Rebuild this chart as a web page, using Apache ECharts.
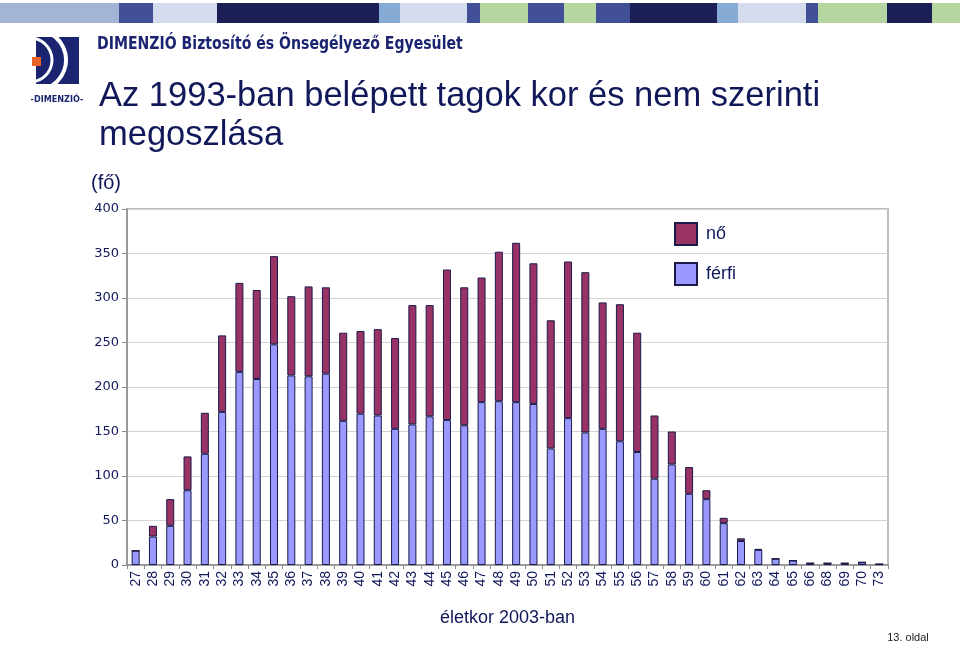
<!DOCTYPE html>
<html>
<head>
<meta charset="utf-8">
<script src="https://cdn.jsdelivr.net/npm/echarts@6/dist/echarts.min.js"></script>
<style>html,body{margin:0;padding:0;background:#fff}#c{width:960px;height:648px}</style>
</head>
<body>
<div id="c"></div>
<script>
const ages = ['27','28','29','30','31','32','33','34','35','36','37','38','39','40','41','42','43','44','45','46','47','48','49','50','51','52','53','54','55','56','57','58','59','60','61','62','63','64','65','66','68','69','70','73'];
const ferfi = [16,32,44,84,125,172,217,209,248,213,212,215,162,170,168,153,158,167,163,157,183,184,183,181,131,165,149,153,139,127,97,113,80,74,47,27,17,7,5,2,2,2,3,1];
const no = [0,12,30,38,46,86,100,100,99,89,101,97,99,93,97,102,134,125,169,155,140,168,179,158,144,176,180,142,154,134,71,37,30,10,6,3,1,0,0,0,0,0,0,0];
const yTicks = [0,50,100,150,200,250,300,350,400];

const NAVY = '#10185a';
const banner = [
  [0,119,'#a3b5d6'],[119,153,'#414f96'],[153,217,'#d3dbec'],[217,379,'#1b1f55'],
  [379,400,'#86acd6'],[400,467,'#d3dbec'],[467,480,'#414f96'],[480,528,'#b5d6a0'],
  [528,564,'#414f96'],[564,596,'#b5d6a0'],[596,630,'#414f96'],[630,717,'#1b1f55'],
  [717,738,'#86acd6'],[738,806,'#d3dbec'],[806,818,'#414f96'],[818,887,'#b5d6a0'],
  [887,932,'#1b1f55'],[932,960,'#b5d6a0']
];
const graphics = banner.map(b => ({type:'rect', shape:{x:b[0], y:3, width:b[1]-b[0], height:20}, style:{fill:b[2]}, silent:true}));
graphics.push(
  {type:'rect', shape:{x:36,y:37,width:43,height:47}, style:{fill:'#1b2470'}},
  {type:'arc', shape:{cx:36,cy:60,r:30,startAngle:-Math.PI/2.6,endAngle:Math.PI/2.6}, style:{stroke:'#fff',lineWidth:4,fill:null}},
  {type:'arc', shape:{cx:30,cy:60,r:22,startAngle:-Math.PI/2.2,endAngle:Math.PI/2.2}, style:{stroke:'#fff',lineWidth:3,fill:null}},
  {type:'rect', shape:{x:32,y:57,width:9,height:9}, style:{fill:'#e8632a'}},
  {type:'text', x:57, y:100, style:{text:'-DIMENZIÓ-', fill:'#1b2470', font:'bold 9px "DejaVu Sans Condensed", sans-serif', textAlign:'center', textVerticalAlign:'middle'}},
  {type:'text', x:97, y:45, scaleX:0.92, originX:0, originY:0, style:{text:'DIMENZIÓ Biztosító és Önsegélyező Egyesület', fill:'#1b2470', font:'bold 17px "DejaVu Sans Condensed", sans-serif', textVerticalAlign:'middle'}},
  {type:'text', x:99, y:96, style:{text:'Az 1993-ban belépett tagok kor és nem szerinti', fill:NAVY, font:'34.5px "Liberation Sans", Arial, sans-serif', textVerticalAlign:'middle'}},
  {type:'text', x:99, y:135, style:{text:'megoszlása', fill:NAVY, font:'34.5px "Liberation Sans", Arial, sans-serif', textVerticalAlign:'middle'}},
  {type:'text', x:106, y:183, style:{text:'(fő)', fill:NAVY, font:'20px "Liberation Sans", Arial, sans-serif', textAlign:'center', textVerticalAlign:'middle'}},
  {type:'text', x:908, y:638, style:{text:'13. oldal', fill:'#222', font:'11px "Liberation Sans", Arial, sans-serif', textAlign:'center', textVerticalAlign:'middle'}}
);

const chart = echarts.init(document.getElementById('c'), null, {renderer:'canvas'});
chart.setOption({
  animation:false,
  backgroundColor:'#fff',
  graphic: graphics,
  legend:{
    data:['nő','férfi'], orient:'vertical', left:669, top:217, itemWidth:22, itemHeight:22, itemGap:16,
    icon:'rect', textStyle:{color:NAVY, fontSize:18, fontFamily:'"Liberation Sans", Arial, sans-serif', padding:[0,0,0,4]}
  },
  grid:{left:127, right:72, top:209, bottom:83, show:true, borderColor:'#a6a6a6', borderWidth:1.5},
  xAxis:{
    type:'category', data:ages,
    axisLine:{lineStyle:{color:'#8c8c8c', width:1.5}},
    axisTick:{show:true, interval:0, length:4, lineStyle:{color:'#8c8c8c'}},
    axisLabel:{rotate:90, interval:0, color:NAVY, fontSize:14, fontFamily:'"Liberation Sans", Arial, sans-serif', margin:6},
    name:'életkor 2003-ban', nameLocation:'middle', nameGap:44,
    nameTextStyle:{color:NAVY, fontSize:18, fontFamily:'"Liberation Sans", Arial, sans-serif'}
  },
  yAxis:{
    type:'value', min:0, max:400, interval:50,
    axisLine:{show:true, lineStyle:{color:'#8c8c8c', width:1.5}},
    axisTick:{show:true, length:5, lineStyle:{color:'#8c8c8c'}},
    axisLabel:{color:NAVY, fontSize:13, fontFamily:'"DejaVu Sans", Verdana, sans-serif', margin:8,
      formatter: v => yTicks.includes(v) ? String(v) : ''},
    splitLine:{lineStyle:{color:'#d4d4d4'}}
  },
  series:[
    {name:'férfi', type:'bar', stack:'t', data:ferfi, barWidth:8,
      itemStyle:{color:'#9999ff', borderColor:'#1a1a4a', borderWidth:1}},
    {name:'nő', type:'bar', stack:'t', data:no, barWidth:8,
      itemStyle:{color:'#993366', borderColor:'#1a1a4a', borderWidth:1}}
  ]
});
</script>
</body>
</html>
